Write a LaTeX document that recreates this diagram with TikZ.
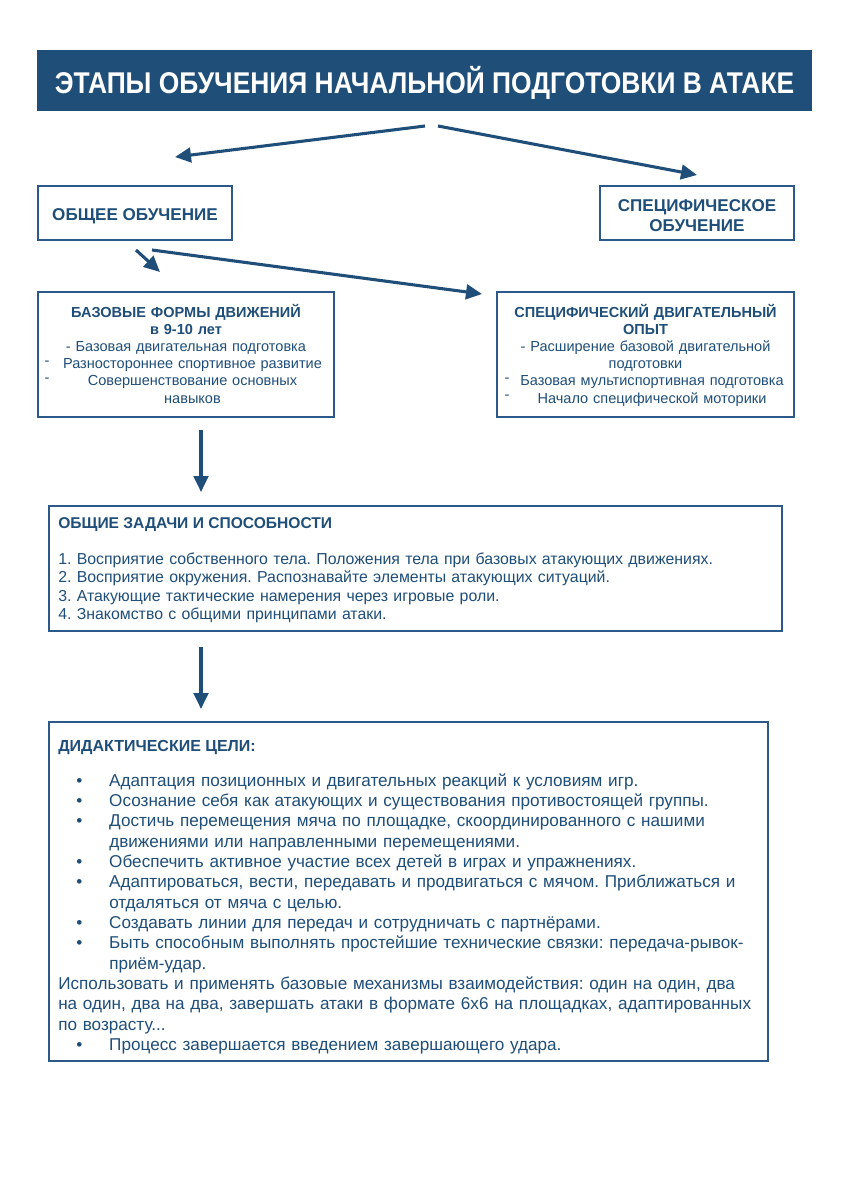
\documentclass[tikz,border=0pt]{standalone}
\usepackage{fontspec}
\setmainfont{Liberation Sans}
\newfontfamily\condfont[FakeStretch=0.88]{Liberation Sans}
\usetikzlibrary{arrows.meta}
\definecolor{navy}{HTML}{1F4E79}
\definecolor{edge}{HTML}{2B5A8A}
\newcommand\bl{\hspace*{13.5pt}\makebox[24.75pt][l]{•}}
\newcommand\ind{\hspace*{38.25pt}}
\newcommand\shf{\hspace*{9.75pt}}
\frenchspacing
\begin{document}
\begin{tikzpicture}[x=0.75pt,y=-0.75pt,
  box/.style={draw=edge, line width=1.1pt, inner sep=0pt, fill=white},
  arr/.style={draw=navy, line width=2.3pt, -{Triangle[length=12pt,width=11pt]}},
  txt/.style={text=navy, inner sep=0pt, anchor=base west},
  ctxt/.style={text=navy, inner sep=0pt, anchor=base, align=center},
  dashmark/.style={text=navy, inner sep=0pt, anchor=base, font=\fontsize{11pt}{12pt}\selectfont}]
\useasboundingbox (0,0) rectangle (849,1200);
% title
\node[box, fill=navy, draw=navy, minimum width={773*0.75pt}, minimum height={59*0.75pt}] (title) at (424.5,80.5) {};
\node[inner sep=0pt, anchor=base, text=white, font=\condfont\bfseries\fontsize{22.5pt}{26pt}\selectfont] (titletext) at (424.5,93) {ЭТАПЫ ОБУЧЕНИЯ НАЧАЛЬНОЙ ПОДГОТОВКИ В АТАКЕ};
% level 1 boxes
\node[box, minimum width={194*0.75pt}, minimum height={54*0.75pt}] (gen) at (135,213) {};
\node[ctxt, font=\bfseries\fontsize{12.8pt}{14pt}\selectfont] (gentext) at (135,220) {ОБЩЕЕ ОБУЧЕНИЕ};
\node[box, minimum width={194*0.75pt}, minimum height={54*0.75pt}] (spec) at (697,213) {};
\node[ctxt, text width={190*0.75pt}, font=\bfseries\fontsize{12.8pt}{15pt}\selectfont] (spectext) at (697,211) {СПЕЦИФИЧЕСКОЕ\\ОБУЧЕНИЕ};
% arrows from title
\coordinate (a1s) at (425,126); \coordinate (a1e) at (175,157);
\coordinate (a2s) at (438,126); \coordinate (a2e) at (697,175);
\draw[arr] (a1s) -- (a1e);
\draw[arr] (a2s) -- (a2e);
% level 2 boxes
\node[box, minimum width={296*0.75pt}, minimum height={125*0.75pt}] (base) at (186,354.5) {};
\node[ctxt, text width={290*0.75pt}, font=\fontsize{10.9pt}{12.9pt}\selectfont] (basetext) at (186,317)
 {\textbf{БАЗОВЫЕ ФОРМЫ ДВИЖЕНИЙ}\\\textbf{в 9-10 лет}\\- Базовая двигательная подготовка\\\shf Разностороннее спортивное развитие\\\shf Совершенствование основных\\\shf навыков};
\node[dashmark] (bd1) at (47,365) {-};
\node[dashmark] (bd2) at (47,382) {-};
\node[box, minimum width={297*0.75pt}, minimum height={125*0.75pt}] (sexp) at (645.5,354.5) {};
\node[ctxt, text width={294*0.75pt}, font=\fontsize{10.9pt}{12.9pt}\selectfont] (sexptext) at (645.5,317)
 {\textbf{СПЕЦИФИЧЕСКИЙ ДВИГАТЕЛЬНЫЙ}\\\textbf{ОПЫТ}\\- Расширение базовой двигательной\\подготовки\\\shf Базовая мультиспортивная подготовка\\\shf Начало специфической моторики};
\node[dashmark] (sd1) at (507,382) {-};
\node[dashmark] (sd2) at (507,399) {-};
\coordinate (a3s) at (136,250); \coordinate (a3e) at (160,272);
\coordinate (a4s) at (152,250); \coordinate (a4e) at (482,294);
\draw[arr] (a3s) -- (a3e);
\draw[arr] (a4s) -- (a4e);
% tasks box
\coordinate (a5s) at (201,430); \coordinate (a5e) at (201,492);
\draw[arr] (a5s) -- (a5e);
\node[box, minimum width={733*0.75pt}, minimum height={125*0.75pt}] (tasks) at (415.5,568.5) {};
\node[txt, font=\bfseries\fontsize{11.7pt}{13pt}\selectfont] (taskstitle) at (58,528) {ОБЩИЕ ЗАДАЧИ И СПОСОБНОСТИ};
\node[txt, text width={715*0.75pt}, align=left, font=\fontsize{11.9pt}{13.8pt}\selectfont] (taskslist) at (58,564.5)
 {1. Восприятие собственного тела. Положения тела при базовых атакующих движениях.\\
  2. Восприятие окружения. Распознавайте элементы атакующих ситуаций.\\
  3. Атакующие тактические намерения через игровые роли.\\
  4. Знакомство с общими принципами атаки.};
% didactic box
\coordinate (a6s) at (201,647); \coordinate (a6e) at (201,709);
\draw[arr] (a6s) -- (a6e);
\node[box, minimum width={719*0.75pt}, minimum height={339*0.75pt}] (did) at (408.5,891.5) {};
\node[txt, font=\bfseries\fontsize{12pt}{14pt}\selectfont] (didtitle) at (58,751) {ДИДАКТИЧЕСКИЕ ЦЕЛИ:};
\node[txt, text width={705*0.75pt}, align=left, font=\fontsize{12.85pt}{15.25pt}\selectfont] (didlist) at (58,786)
 {\bl Адаптация позиционных и двигательных реакций к условиям игр.\\
  \bl Осознание себя как атакующих и существования противостоящей группы.\\
  \bl Достичь перемещения мяча по площадке, скоординированного с нашими\\
  \ind движениями или направленными перемещениями.\\
  \bl Обеспечить активное участие всех детей в играх и упражнениях.\\
  \bl Адаптироваться, вести, передавать и продвигаться с мячом. Приближаться и\\
  \ind отдаляться от мяча с целью.\\
  \bl Создавать линии для передач и сотрудничать с партнёрами.\\
  \bl Быть способным выполнять простейшие технические связки: передача-рывок-\\
  \ind приём-удар.\\
  Использовать и применять базовые механизмы взаимодействия: один на один, два\\
  на один, два на два, завершать атаки в формате 6x6 на площадках, адаптированных\\
  по возрасту...\\
  \bl Процесс завершается введением завершающего удара.};
\end{tikzpicture}
\end{document}
